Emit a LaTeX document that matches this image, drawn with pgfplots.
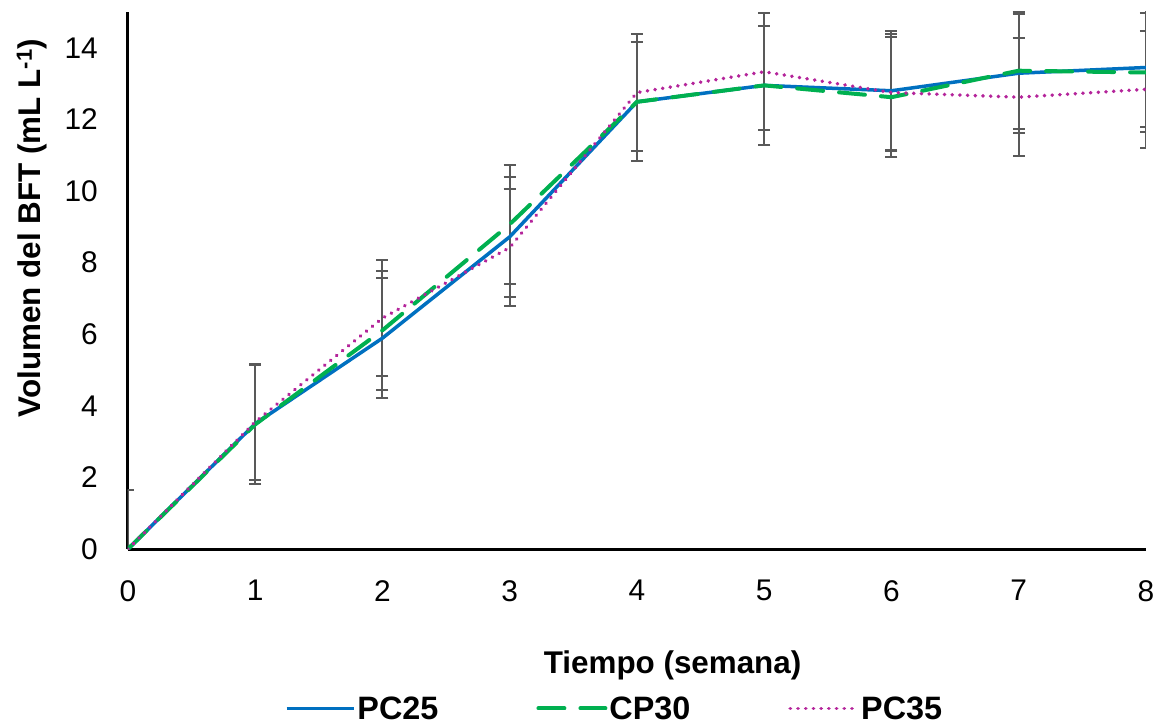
\documentclass[border=0pt]{standalone}
\usepackage{pgfplots}
\pgfplotsset{compat=1.18}
\usepackage{fontspec}
\setmainfont{Liberation Sans}
\definecolor{cblue}{HTML}{0070C0}
\definecolor{cgreen}{HTML}{00B050}
\definecolor{cpink}{HTML}{B4249A}
\definecolor{cgray}{HTML}{595959}
\begin{document}
\begin{tikzpicture}
\begin{axis}[
  at={(0,0)}, anchor=south west,
  scale only axis, width=1018bp, height=537bp,
  xmin=0, xmax=8, ymin=0, ymax=15,
  xtick={0,1,...,8}, ytick={0,2,...,14},
  axis lines=left,
  axis line style={line width=3bp, black, -},
  major tick length=0pt,
  /pgf/number format/assume math mode=true,
  tick label style={font=\fontsize{30}{36}\selectfont, inner sep=0pt},
  xticklabel style={anchor=north, yshift=-31bp},
  yticklabel style={anchor=east, xshift=-30bp},
  xlabel={\textbf{Tiempo (semana)}},
  ylabel={\textbf{Volumen del BFT (mL L\textsuperscript{-1})}},
  label style={font=\fontsize{31.5}{37}\selectfont},
  xlabel style={at={(axis description cs:0.535,-0.216)}, anchor=center},
  ylabel style={at={(axis description cs:-0.0943,0.598)}, anchor=center, rotate=0},
  legend columns=3,
  legend style={draw=none, fill=none, font=\fontsize{32.5}{38}\selectfont\bfseries,
    at={(axis description cs:0.478,-0.297)}, anchor=center,
    /tikz/every even column/.append style={column sep=96bp},
    nodes={inner sep=2bp}},
  legend image code/.code={\draw[#1] (0bp,0bp) -- (67bp,0bp);},
  error bars/error bar style={draw=cgray, line width=2bp, solid},
  error bars/error mark options={rotate=90, mark size=6bp, line width=2bp, draw=cgray, solid},
]
% error bars (drawn beneath the lines)
\addplot[forget plot, draw=none, mark=none, error bars/.cd, y dir=both, y explicit]
  coordinates {(0,0) +- (0,1.65) (1,3.50) +- (0,1.68) (2,5.89) +- (0,1.67) (3,8.72) +- (0,1.67) (4,12.49) +- (0,1.66) (5,12.95) +- (0,1.67) (6,12.80) +- (0,1.66) (7,13.29) +- (0,1.66) (8,13.45) +- (0,1.67)};
\addplot[forget plot, draw=none, mark=none, error bars/.cd, y dir=both, y explicit]
  coordinates {(0,0) +- (0,1.65) (1,3.48) +- (0,1.66) (2,6.11) +- (0,1.66) (3,9.07) +- (0,1.66) (4,12.49) +- (0,1.66) (5,12.95) +- (0,1.67) (6,12.62) +- (0,1.67) (7,13.36) +- (0,1.64) (8,13.31) +- (0,1.66)};
\addplot[forget plot, draw=none, mark=none, error bars/.cd, y dir=both, y explicit]
  coordinates {(0,0) +- (0,1.65) (1,3.55) +- (0,1.62) (2,6.45) +- (0,1.62) (3,8.42) +- (0,1.63) (4,12.75) +- (0,1.63) (5,13.33) +- (0,1.63) (6,12.75) +- (0,1.63) (7,12.62) +- (0,1.64) (8,12.84) +- (0,1.63)};
% lines
\addplot[cblue, line width=3.5bp, no marks]
  coordinates {(0,0) (1,3.50) (2,5.89) (3,8.72) (4,12.49) (5,12.95) (6,12.80) (7,13.29) (8,13.45)};
\addlegendentry{PC25}
\addplot[cgreen, line width=4bp, no marks, line cap=round, dash pattern=on 26bp off 16bp]
  coordinates {(0,0) (1,3.48) (2,6.11) (3,9.07) (4,12.49) (5,12.95) (6,12.62) (7,13.36) (8,13.31)};
\addlegendentry{CP30}
\addplot[cpink, line width=3.8bp, no marks, line cap=round, dash pattern=on 0.1bp off 7.6bp]
  coordinates {(0,0) (1,3.55) (2,6.45) (3,8.42) (4,12.75) (5,13.33) (6,12.75) (7,12.62) (8,12.84)};
\addlegendentry{PC35}
\end{axis}
\pgfresetboundingbox
\path[use as bounding box] (-128bp,-177bp) rectangle (1033bp,549bp);
\end{tikzpicture}
\end{document}
